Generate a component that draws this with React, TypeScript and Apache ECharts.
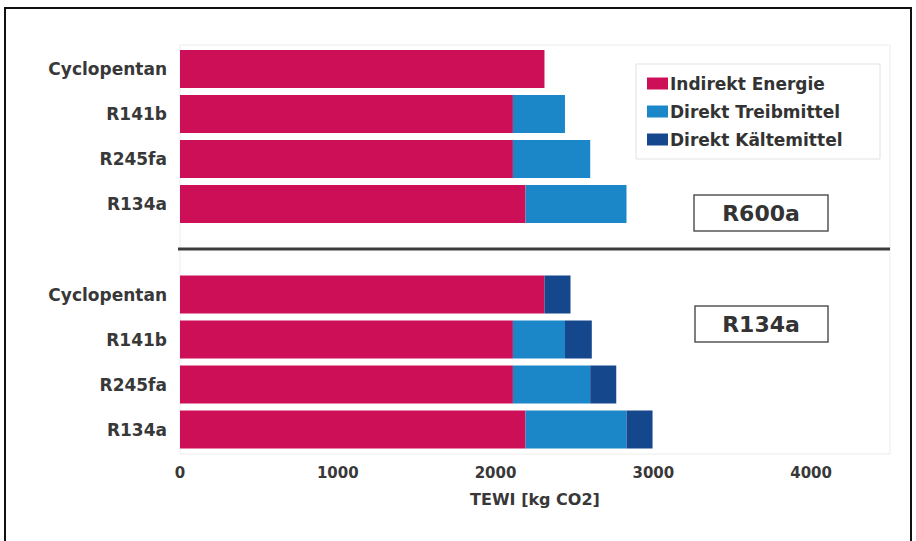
import React, { useEffect, useRef } from "react";
import * as echarts from "echarts";

const categories = ["Cyclopentan", "R141b", "R245fa", "R134a"];
const seriesNames = ["Indirekt Energie", "Direkt Treibmittel", "Direkt Kältemittel"];

// Top panel (R600a als Kältemittel)
const topIndirekt = [2310, 2110, 2110, 2190];
const topTreib = [0, 330, 490, 640];
const topKaelte = [0, 0, 0, 0];

// Bottom panel (R134a als Kältemittel)
const botIndirekt = [2310, 2110, 2110, 2190];
const botTreib = [0, 330, 490, 640];
const botKaelte = [165, 170, 165, 165];

const xTicksMax = 4500;
const xInterval = 1000;
const xAxisName = "TEWI [kg CO2]";
const panelLabels = ["R600a", "R134a"];

const colors = ["#cd0f58", "#1b87c8", "#15478c"];
const FONT = "DejaVu Sans";

export default function App() {
  const ref = useRef<HTMLDivElement>(null);

  useEffect(() => {
    document.body.style.margin = "0";
    if (!ref.current) return;
    const chart = echarts.init(ref.current, null, { renderer: "svg" });

    const yAxisCommon = {
      type: "category" as const,
      data: categories,
      inverse: true,
      axisLine: { show: false },
      axisTick: { show: false },
      axisLabel: {
        color: "#383838",
        fontFamily: FONT,
        fontWeight: "bold" as const,
        fontSize: 17,
        margin: 13,
      },
    };

    const xAxisCommon = {
      type: "value" as const,
      min: 0,
      max: xTicksMax,
      interval: xInterval,
      splitLine: { show: false },
      axisLine: { show: false },
      axisTick: { show: false },
    };

    const mk = (name: string, data: number[], idx: number, color: string, stack: string) => ({
      name,
      type: "bar" as const,
      stack,
      xAxisIndex: idx,
      yAxisIndex: idx,
      data,
      barWidth: 38,
      itemStyle: { color },
      silent: true,
    });

    chart.setOption({
      animation: false,
      backgroundColor: "#ffffff",
      grid: [
        { left: 180, width: 710, top: 46.5, height: 180 },
        { left: 180, width: 710, top: 272, height: 180 },
      ],
      xAxis: [
        { ...xAxisCommon, gridIndex: 0, axisLabel: { show: false } },
        {
          ...xAxisCommon,
          gridIndex: 1,
          axisLabel: {
            color: "#383838",
            fontFamily: FONT,
            fontWeight: "bold",
            fontSize: 15,
            margin: 13,
            showMaxLabel: false,
            formatter: (v: number) => String(v),
          },
          name: xAxisName,
          nameLocation: "middle",
          nameGap: 39,
          nameTextStyle: {
            color: "#383838",
            fontFamily: FONT,
            fontWeight: "bold",
            fontSize: 16,
          },
        },
      ],
      yAxis: [
        { ...yAxisCommon, gridIndex: 0 },
        { ...yAxisCommon, gridIndex: 1 },
      ],
      legend: {
        data: seriesNames,
        orient: "vertical",
        left: 642,
        top: 70,
        itemWidth: 21,
        itemHeight: 12,
        itemGap: 11,
        icon: "rect",
        selectedMode: false,
        textStyle: {
          color: "#333333",
          fontFamily: FONT,
          fontWeight: "bold",
          fontSize: 17,
          padding: [0, 0, 0, -3],
        },
      },
      series: [
        mk(seriesNames[0], topIndirekt, 0, colors[0], "top"),
        mk(seriesNames[1], topTreib, 0, colors[1], "top"),
        mk(seriesNames[2], topKaelte, 0, colors[2], "top"),
        mk(seriesNames[0], botIndirekt, 1, colors[0], "bot"),
        mk(seriesNames[1], botTreib, 1, colors[1], "bot"),
        mk(seriesNames[2], botKaelte, 1, colors[2], "bot"),
      ],
      graphic: [
        {
          type: "rect",
          shape: { x: 5, y: 8, width: 906, height: 540 },
          style: { fill: "none", stroke: "#111111", lineWidth: 2 },
          silent: true,
        },
        {
          type: "rect",
          shape: { x: 180, y: 45, width: 710, height: 409 },
          style: { fill: "none", stroke: "#ececec", lineWidth: 1 },
          silent: true,
          z: -1,
        },
        {
          type: "rect",
          shape: { x: 636, y: 64, width: 244, height: 95 },
          style: { fill: "none", stroke: "#e2e2e2", lineWidth: 1 },
          silent: true,
        },
        {
          type: "line",
          shape: { x1: 178, y1: 249, x2: 890, y2: 249 },
          style: { stroke: "#3c3c3c", lineWidth: 3 },
          silent: true,
        },
        {
          type: "rect",
          shape: { x: 694, y: 195, width: 134, height: 36 },
          style: { fill: "#ffffff", stroke: "#555555", lineWidth: 1.5 },
          silent: true,
        },
        {
          type: "text",
          x: 761,
          y: 213,
          style: {
            text: panelLabels[0],
            fill: "#333333",
            font: `bold 22px "${FONT}"`,
            align: "center",
            verticalAlign: "middle",
          },
          silent: true,
        },
        {
          type: "rect",
          shape: { x: 695, y: 306, width: 133, height: 36 },
          style: { fill: "#ffffff", stroke: "#555555", lineWidth: 1.5 },
          silent: true,
        },
        {
          type: "text",
          x: 761,
          y: 324,
          style: {
            text: panelLabels[1],
            fill: "#333333",
            font: `bold 22px "${FONT}"`,
            align: "center",
            verticalAlign: "middle",
          },
          silent: true,
        },
      ],
    });

    return () => chart.dispose();
  }, []);

  return <div ref={ref} style={{ width: 916, height: 541 }} />;
}
